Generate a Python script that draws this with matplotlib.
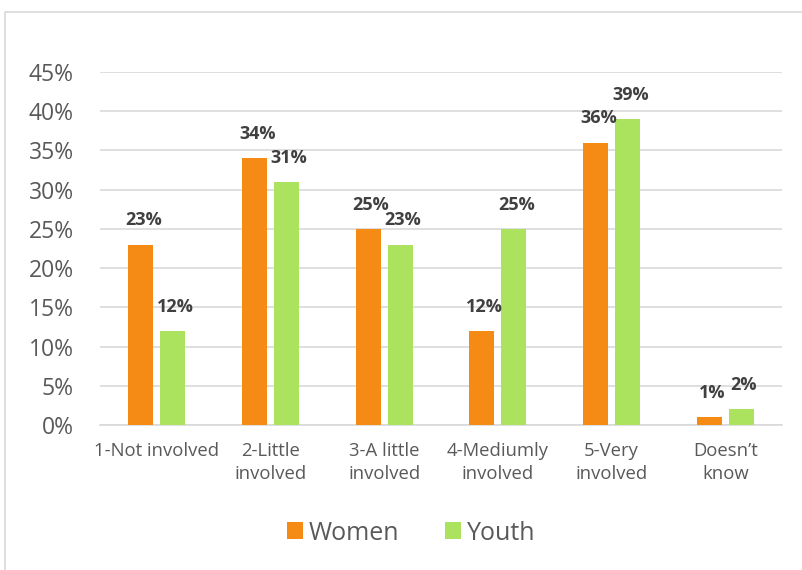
import matplotlib
matplotlib.use("Agg")
from matplotlib import pyplot as plt
from matplotlib.patches import Rectangle
import numpy as np

plt.rcParams["font.family"] = ["Open Sans", "DejaVu Sans"]

categories = ["1-Not involved", "2-Little\ninvolved", "3-A little\ninvolved",
              "4-Mediumly\ninvolved", "5-Very\ninvolved", "Doesn\u2019t\nknow"]
women = [23, 34, 25, 12, 36, 1]
youth = [12, 31, 23, 25, 39, 2]
yticks = [0, 5, 10, 15, 20, 25, 30, 35, 40, 45]

orange = "#F58A14"
green = "#ABE35E"
grid_grey = "#D9D9D9"
text_grey = "#595959"

fig = plt.figure(figsize=(8.03, 5.70), dpi=100)
ax = fig.add_axes([0.1245, 0.2544, 0.8495, 0.6193])

# chart frame: open on the right and bottom
fig.patches.append(Rectangle((5 / 803, -0.1), 1.2, (570 - 12) / 570 + 0.1,
                             transform=fig.transFigure, fill=False,
                             edgecolor=grid_grey, linewidth=1.2))

x = np.arange(len(categories))
w = 0.22
off = 0.14
b1 = ax.bar(x - off, women, w, color=orange, label="Women", zorder=3)
b2 = ax.bar(x + off, youth, w, color=green, label="Youth", zorder=3)

for bars, vals in ((b1, women), (b2, youth)):
    for bar, v in zip(bars, vals):
        ax.annotate("%d%%" % v, (bar.get_x() + bar.get_width() / 2, v),
                    xytext=(2, 17.5), textcoords="offset points",
                    ha="center", va="center", fontsize=13, weight="bold",
                    color="#404040")

ax.set_xlim(-0.5, len(categories) - 0.5)
ax.set_ylim(0, 45)
ax.set_yticks(yticks)
ax.set_yticklabels(["%d%%" % t for t in yticks], fontsize=16.5, color=text_grey)
ax.set_xticks(x)
ax.set_xticklabels(categories, fontsize=13.3, color=text_grey, linespacing=1.4)
ax.tick_params(axis="both", length=0)
ax.tick_params(axis="y", pad=19)
ax.tick_params(axis="x", pad=12)

ax.grid(axis="y", color=grid_grey, linewidth=1.2, zorder=0)
for s in ["top", "right", "left"]:
    ax.spines[s].set_visible(False)
ax.spines["bottom"].set_color(grid_grey)
ax.spines["bottom"].set_linewidth(1.2)

fig.legend(handles=[b1, b2], loc="center", bbox_to_anchor=(411 / 803, 1 - 533 / 570),
           ncol=2, frameon=False, fontsize=18, labelcolor=text_grey,
           handlelength=0.65, handleheight=0.65, handletextpad=0.25,
           columnspacing=1.8)

fig.savefig("out.png", dpi=100)
